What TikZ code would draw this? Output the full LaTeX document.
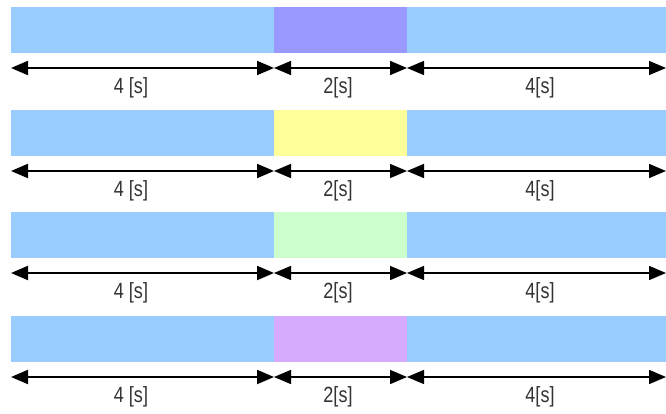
\documentclass[tikz,border=0pt]{standalone}
\usepackage{fontspec}
\setmainfont{Liberation Sans}
\usetikzlibrary{arrows.meta}
\definecolor{barblue}{HTML}{99CCFF}
\definecolor{midA}{HTML}{9999FF}
\definecolor{midB}{HTML}{FFFF99}
\definecolor{midC}{HTML}{CCFFCC}
\definecolor{midD}{HTML}{D6AAFF}
\definecolor{txt}{HTML}{333333}
\newcommand{\tallt}[1]{\scalebox{0.82}[1.0]{#1}}
\tikzset{
  seg/.style={rectangle, inner sep=0pt, outer sep=0pt, anchor=north west, minimum height=46pt},
  dim/.style={line width=1.5pt, {Triangle[length=17pt,width=14pt]}-{Triangle[length=17pt,width=14pt]}},
  lbl/.style={font=\fontsize{22}{22}\selectfont, text=txt, inner sep=0pt}
}
\begin{document}
\begin{tikzpicture}[x=1pt,y=-1pt]
\useasboundingbox (0,0) rectangle (666,414);
\foreach \t/\c [count=\i] in {7/midA, 110/midB, 212/midC, 316/midD}{
  \node[seg, fill=barblue, minimum width=263pt] (L\i) at (11,\t) {};
  \node[seg, fill=\c, minimum width=133pt] (M\i) at (274,\t) {};
  \node[seg, fill=barblue, minimum width=259pt] (R\i) at (407,\t) {};
  \coordinate (a\i) at (11,\t+61);
  \coordinate (b\i) at (274,\t+61);
  \coordinate (c\i) at (407,\t+61);
  \coordinate (d\i) at (666,\t+61);
  \draw[dim, line width=2pt] (a\i) -- (b\i);
  \draw[dim] (b\i) -- (c\i);
  \draw[dim] (c\i) -- (d\i);
  \node[lbl] (t1\i) at (131,\t+81) {\tallt{4 [s]}};
  \node[lbl] (t2\i) at (338,\t+81) {\tallt{2[s]}};
  \node[lbl] (t3\i) at (540,\t+81) {\tallt{4[s]}};
}
\end{tikzpicture}
\end{document}
